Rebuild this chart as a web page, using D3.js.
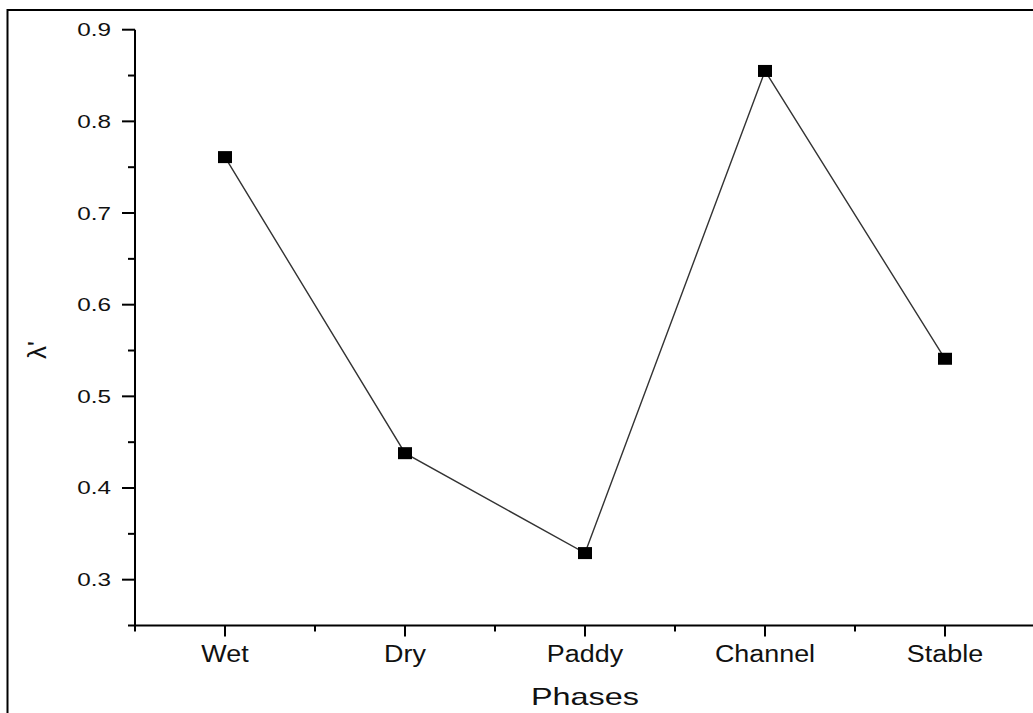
<!DOCTYPE html>
<html>
<head>
<meta charset="utf-8">
<script src="https://cdn.jsdelivr.net/npm/d3@7"></script>
<style>
  body { margin: 0; background: #fff; }
  svg { display: block; font-family: Arial, "Liberation Sans", sans-serif; }
</style>
</head>
<body>
<svg id="chart" width="1033" height="713"></svg>
<script>
const phases = ['Wet', 'Dry', 'Paddy', 'Channel', 'Stable'];
const lambdaValues = [0.761, 0.438, 0.329, 0.855, 0.541];
const yTicks = [0.3, 0.4, 0.5, 0.6, 0.7, 0.8, 0.9];

const W = 1033, H = 713;
const svg = d3.select('#chart');

// outer frame (left + top only visible)
svg.append('path')
  .attr('d', `M7.5,${H} V10 H${W}`)
  .attr('fill', 'none')
  .attr('stroke', '#000')
  .attr('stroke-width', 2);

const x = d3.scaleLinear().domain([0.5, 5.5]).range([135, 1035]);
const y = d3.scaleLinear().domain([0.25, 0.9]).range([625.5, 29.7]);

// y axis
const yAxisG = svg.append('g').attr('transform', 'translate(135,0)');
yAxisG.append('line')
  .attr('y1', y(0.9)).attr('y2', y(0.25))
  .attr('stroke', '#000').attr('stroke-width', 2);
yAxisG.selectAll('line.minor')
  .data(d3.range(0.25, 0.901, 0.1).map(v => +v.toFixed(2)))
  .join('line').attr('class', 'minor')
  .attr('x1', -7).attr('x2', 0)
  .attr('y1', d => y(d)).attr('y2', d => y(d))
  .attr('stroke', '#000').attr('stroke-width', 2);
yAxisG.selectAll('line.major')
  .data(yTicks)
  .join('line').attr('class', 'major')
  .attr('x1', -13).attr('x2', 0)
  .attr('y1', d => y(d)).attr('y2', d => y(d))
  .attr('stroke', '#000').attr('stroke-width', 2);
// labels are a bit stretched horizontally in the original
yAxisG.selectAll('text')
  .data(yTicks)
  .join('text')
  .attr('transform', d => `translate(-24,${y(d)}) scale(1.35,1)`)
  .attr('dy', '0.36em')
  .attr('text-anchor', 'end')
  .attr('font-size', 18)
  .attr('fill', '#111')
  .text(d => d.toFixed(1));

// x axis
const xAxisG = svg.append('g').attr('transform', `translate(0,${y(0.25)})`);
xAxisG.append('line')
  .attr('x1', 134).attr('x2', W)
  .attr('stroke', '#000').attr('stroke-width', 2);
xAxisG.selectAll('line.minor')
  .data(d3.range(0.5, 5.6, 1))
  .join('line').attr('class', 'minor')
  .attr('x1', d => x(d)).attr('x2', d => x(d))
  .attr('y1', 0).attr('y2', 6)
  .attr('stroke', '#000').attr('stroke-width', 2);
xAxisG.selectAll('line.major')
  .data(phases)
  .join('line').attr('class', 'major')
  .attr('x1', (d, i) => x(i + 1)).attr('x2', (d, i) => x(i + 1))
  .attr('y1', 0).attr('y2', 11)
  .attr('stroke', '#000').attr('stroke-width', 2);
xAxisG.selectAll('text')
  .data(phases)
  .join('text')
  .attr('transform', (d, i) => `translate(${x(i + 1)},36) scale(1.17,1)`)
  .attr('text-anchor', 'middle')
  .attr('font-size', 23)
  .attr('fill', '#111')
  .text(d => d);

// axis titles
svg.append('text')
  .attr('transform', 'translate(585,705) scale(1.35,1)')
  .attr('text-anchor', 'middle')
  .attr('font-size', 24)
  .attr('fill', '#111')
  .text('Phases');
svg.append('text')
  .attr('transform', 'translate(46,350) rotate(-90)')
  .attr('text-anchor', 'middle')
  .attr('font-size', 26)
  .attr('fill', '#111')
  .text("λ'");

// series line
const line = d3.line()
  .x((d, i) => x(i + 1))
  .y(d => y(d));
svg.append('path')
  .datum(lambdaValues)
  .attr('d', line)
  .attr('fill', 'none')
  .attr('stroke', '#333')
  .attr('stroke-width', 1.4);

// markers
svg.selectAll('rect.marker')
  .data(lambdaValues)
  .join('rect').attr('class', 'marker')
  .attr('x', (d, i) => x(i + 1) - 7)
  .attr('y', d => y(d) - 6)
  .attr('width', 14)
  .attr('height', 12)
  .attr('fill', '#000');
</script>
</body>
</html>
